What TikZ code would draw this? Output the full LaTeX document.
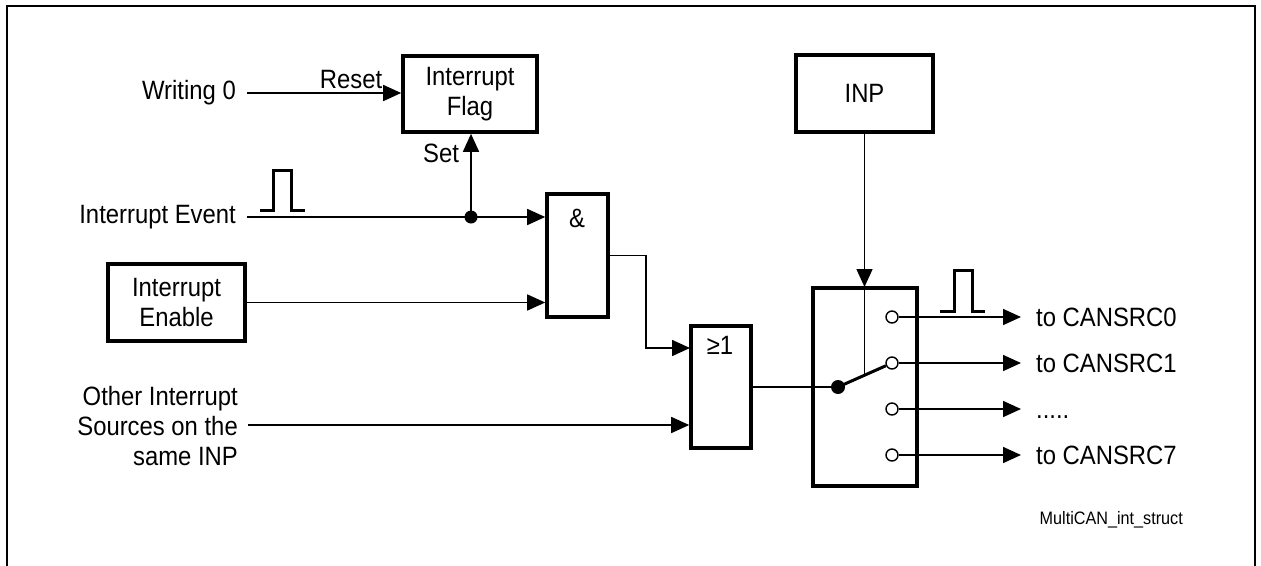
\documentclass[tikz,border=0pt]{standalone}
\usepackage{fontspec}
\setmainfont{Liberation Sans}[FakeStretch=0.9]
\usetikzlibrary{arrows.meta,calc}
\begin{document}
\begin{tikzpicture}[x=1pt,y=-1pt,
  thin line/.style={line width=1.6pt},
  arr/.style={thin line,-{Triangle[length=18pt 0 0,width=16pt 0 0]}},
  blk/.style={draw,line width=3.6pt,rectangle,inner sep=0pt,align=center,
    font=\fontsize{26.5}{30}\selectfont},
  lbl/.style={inner sep=0pt,font=\fontsize{26.5}{30}\selectfont},
  port/.style={circle,draw,fill=white,line width=1.4pt,minimum size=12pt,inner sep=0pt},
  pulse/.style={line width=3pt},
  every node/.style={text=black}]
\useasboundingbox (0,0) rectangle (1261,565);
% frame
\draw[line width=2.8pt] (7,567) -- (7,6) -- (1255,6) -- (1255,567);

% blocks
\node[blk,minimum width=134pt,minimum height=76pt] (flag) at (470,94) {Interrupt\\Flag};
\node[blk,minimum width=137pt,minimum height=77pt] (inp) at (864.5,93.5) {INP};
\node[blk,minimum width=137pt,minimum height=77pt] (en) at (176.5,302.5) {Interrupt\\Enable};
\node[blk,minimum width=61pt,minimum height=123pt] (and) at (577.5,255.5) {};
\node[lbl] (andlbl) at (577,218) {\&};
\node[blk,minimum width=60pt,minimum height=122pt] (or) at (721,387) {};
\node[lbl] (orlbl) at (720,345) {≥1};
\node[blk,minimum width=104pt,minimum height=198pt] (sw) at (865,387) {};

% left labels
\node[lbl,anchor=east] (w0) at (236,93) {Writing 0};
\node[lbl,anchor=east] (ev) at (236,217) {Interrupt Event};
\node[lbl,anchor=east,align=right] (oth) at (238,426) {Other Interrupt\\Sources on the\\same INP};
\node[lbl] (reset) at (351,80) {Reset};
\node[lbl] (set) at (441,153) {Set};

% connectors
\coordinate (w0s) at (247,93);
\draw[arr] (w0s) -- (flag.west |- w0s);
\coordinate (evs) at (247,217);
\coordinate (j) at (471,217);
\draw[arr] (evs) -- (and.west |- evs);
\fill (j) circle (6.5pt);
\draw[arr] (j) -- (flag.south -| j);
\draw[arr] (en.east) -- (and.west |- en.east);
\coordinate (orin1) at (690,348);
\draw[arr] (and.east) -- ++(36,0) |- (orin1);
\coordinate (oths) at (248,425);
\draw[arr] (oths) -- (or.west |- oths);

% switch
\coordinate (swdot) at (838,387);
\node[port] (c0) at (892,317) {};
\node[port] (c1) at (892,363) {};
\node[port] (c2) at (892,409) {};
\node[port] (c3) at (892,455) {};
\draw[thin line] (or.east |- swdot) -- (swdot);
\draw[line width=3pt] (swdot) -- (c1);
\fill (swdot) circle (7pt);
\coordinate (swtop) at (864.5,287);
\coordinate (lev) at (864.5,375.5);
\draw[arr] (inp.south) -- (swtop);
\draw[thin line] (swtop) -- (lev);

% outputs
\coordinate (e0) at (1021,317);
\coordinate (e1) at (1021,363);
\coordinate (e2) at (1021,409);
\coordinate (e3) at (1021,455);
\draw[arr] (c0) -- (e0);
\draw[arr] (c1) -- (e1);
\draw[arr] (c2) -- (e2);
\draw[arr] (c3) -- (e3);
\node[lbl,anchor=base west] (t0) at (1036,326.5) {to CANSRC0};
\node[lbl,anchor=base west] (t1) at (1036,372.5) {to CANSRC1};
\node[lbl,anchor=base west] (t2) at (1036,418.5) {.....};
\node[lbl,anchor=base west] (t3) at (1036,464.5) {to CANSRC7};

% pulses
\draw[pulse] (260,210) -- (273,210) -- (273,170) -- (291,170) -- (291,210) -- (305,210);
\draw[pulse] (940,311) -- (954,311) -- (954,270) -- (972,270) -- (972,311) -- (985,311);

% caption
\node[inner sep=0pt,anchor=east,font=\fontsize{18}{21}\selectfont] (cap) at (1183,520) {MultiCAN\_int\_struct};
\end{tikzpicture}
\end{document}
